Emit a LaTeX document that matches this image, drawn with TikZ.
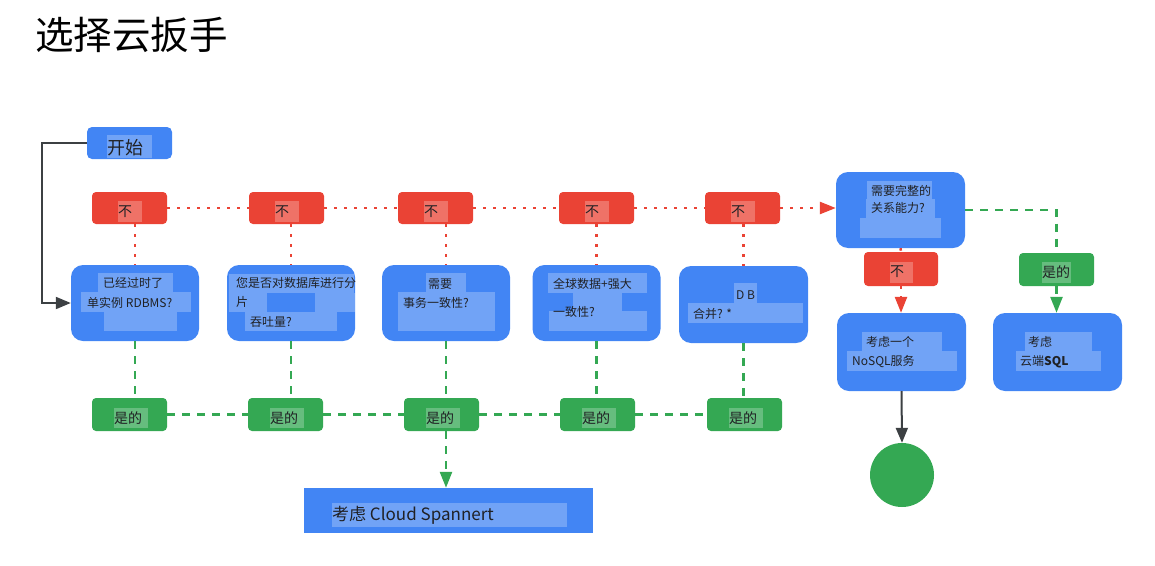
\documentclass[tikz,border=0pt]{standalone}
\usepackage{fontspec}
\setmainfont{Noto Sans CJK SC}
\usetikzlibrary{arrows.meta}
\definecolor{gblue}{HTML}{4285F4}
\definecolor{gred}{HTML}{EA4335}
\definecolor{ggreen}{HTML}{34A853}
\definecolor{gdark}{HTML}{3C4043}
\definecolor{gtext}{HTML}{202124}
\begin{document}
\begin{tikzpicture}[x=1pt,y=-1pt,
  qbox/.style={fill=gblue, rounded corners=12pt, minimum width=128pt, minimum height=76pt, inner sep=0pt},
  nobox/.style={fill=gred, rounded corners=4pt, minimum width=75pt, minimum height=32pt, inner sep=0pt},
  yesbox/.style={fill=ggreen, rounded corners=4pt, minimum width=75pt, minimum height=33pt, inner sep=0pt},
  hl/.style={fill=white, fill opacity=0.25},
  txt/.style={anchor=west, inner sep=0pt, text=gtext, font=\fontsize{12}{14}\selectfont},
  lbl/.style={anchor=west, inner sep=0pt, text=gtext, font=\fontsize{14}{16}\selectfont},
  reddot/.style={draw=gred, line width=2.5pt, dash pattern=on 2.5pt off 7.5pt},
  greendash/.style={draw=ggreen, line width=2.5pt, dash pattern=on 8pt off 7pt},
  redtip/.style={-{Triangle[length=16pt,width=12pt]}, gred},
  greentip/.style={-{Triangle[length=16pt,width=12pt]}, ggreen},
  darktip/.style={-{Triangle[length=15pt,width=12pt]}, gdark}
]
\useasboundingbox (0,0) rectangle (1155,565);

% title
\node[anchor=west, inner sep=0pt, text=black, font=\fontsize{38.5}{42}\selectfont] (title) at (35,35) {选择云扳手};

% start
\node[fill=gblue, rounded corners=5pt, minimum width=85pt, minimum height=32pt, inner sep=0pt] (start) at (129.5,143) {};
\fill[hl] (107,135) rectangle (152,158);
\node[anchor=west, inner sep=0pt, text=gtext, font=\fontsize{18}{20}\selectfont] (starttxt) at (107,148) {开始};

% question boxes
\node[qbox] (q1) at (135,303) {};
\node[qbox] (q2) at (291,303) {};
\node[qbox] (q3) at (446,303) {};
\node[qbox] (q4) at (596.5,303) {};
\node[qbox, minimum width=129pt, minimum height=77pt] (q5) at (743.5,304.5) {};

% no boxes
\foreach \i/\L in {1/92,2/249,3/398,4/559,5/705}{
  \node[nobox] (no\i) at (\L+37.5,208) {};
  \fill[hl] (\L+26,201) rectangle (\L+50,222);
  \node[lbl] (notxt\i) at (\L+26,211.5) {不};
}
% yes boxes
\foreach \i/\L in {1/92,2/248,3/404,4/560,5/707}{
  \node[yesbox] (yes\i) at (\L+37.5,414.5) {};
  \fill[hl] (\L+22,408) rectangle (\L+56,428);
  \node[lbl] (yestxt\i) at (\L+22,418) {是的};
}

% right side boxes
\node[qbox, minimum width=129pt] (big) at (900.5,210) {};
\node[nobox, minimum width=74pt, minimum height=34pt] (no6) at (901,269) {};
\node[yesbox] (yes6) at (1056.5,269.5) {};
\node[qbox, minimum width=129pt, minimum height=78pt] (nosql) at (901.5,352) {};
\node[qbox, minimum width=129pt, minimum height=78pt] (csql) at (1057.5,352) {};
\node[fill=gblue, minimum width=289pt, minimum height=45pt, inner sep=0pt] (spanner) at (448.5,510.5) {};
\node[circle, fill=ggreen, minimum size=64pt, inner sep=0pt] (circ) at (902,475) {};

% connectors: start
\draw[gdark, line width=2pt, darktip] (start.west) -- ++(-45,0) |- (q1.west);

% red dotted
\draw[reddot] (no1.east) -- (no2.west);
\draw[reddot] (no2.east) -- (no3.west);
\draw[reddot] (no3.east) -- (no4.west);
\draw[reddot] (no4.east) -- (no5.west);
\draw[reddot, redtip] (no5.east) -- (no5.east -| big.west);
\foreach \i in {1,...,5}{
  \draw[reddot] (q\i.north |- no\i.south) -- (q\i.north);
}
\draw[reddot] (big.south) -- (no6.north);
\draw[reddot, redtip] (no6.south) -- (no6.south |- nosql.north);

% green dashed
\foreach \i in {1,...,5}{
  \draw[greendash] (q\i.south) -- (q\i.south |- yes\i.north);
}
\draw[greendash] (yes1.east) -- (yes2.west);
\draw[greendash] (yes2.east) -- (yes3.west);
\draw[greendash] (yes3.east) -- (yes4.west);
\draw[greendash] (yes4.east) -- (yes5.west);
\draw[greendash, greentip] (q3.south |- yes3.south) -- (q3.south |- spanner.north);
\draw[greendash] (big.east) -| (yes6.north);
\draw[greendash, greentip] (yes6.south) -- (yes6.south |- csql.north);

% dark arrow to end
\draw[gdark, line width=2pt, darktip] (nosql.south) -- (circ.north);

% highlights
\fill[hl] (98,273) rectangle (173,292);
\fill[hl] (81,292) rectangle (191,312);
\fill[hl] (104,312) rectangle (177,331);
\fill[hl] (229,274) rectangle (354,293);
\fill[hl] (229,293) rectangle (267,312);
\fill[hl] (315,293) rectangle (355,312);
\fill[hl] (245,312) rectangle (337,331);
\fill[hl] (426,273) rectangle (466,292);
\fill[hl] (398,292) rectangle (495,331);
\fill[hl] (548,273) rectangle (647,293);
\fill[hl] (573,293) rectangle (622,311);
\fill[hl] (549,311) rectangle (647,331);
\fill[hl] (734,283) rectangle (757,303);
\fill[hl] (688,303) rectangle (803,323);
\fill[hl] (867,181) rectangle (932,199);
\fill[hl] (866,199) rectangle (935,218);
\fill[hl] (860,218) rectangle (941,238);
\fill[hl] (890,262) rectangle (913,283);
\fill[hl] (1042,262) rectangle (1071,283);
\fill[hl] (862,332) rectangle (942,351);
\fill[hl] (847,351) rectangle (957,371);
\fill[hl] (1025,332) rectangle (1092,351);
\fill[hl] (1016,351) rectangle (1101,371);
\fill[hl] (332,503) rectangle (567,527);

% texts
\node[txt] (t1a) at (103,283) {已经过时了};
\node[txt] (t1b) at (87,303) {单实例 RDBMS?};
\node[txt] (t2a) at (236,283) {您是否对数据库进行分};
\node[txt] (t2b) at (236,302) {片};
\node[txt] (t2c) at (250,322) {吞吐量?};
\node[txt] (t3a) at (428,284) {需要};
\node[txt] (t3b) at (403,303) {事务一致性?};
\node[txt] (t4a) at (553,284) {全球数据+强大};
\node[txt] (t4b) at (553,312) {一致性?};
\node[txt] (t5a) at (736,295) {D B};
\node[txt] (t5b) at (693,314) {合并? *};
\node[txt] (tba) at (871,191) {需要完整的};
\node[txt] (tbb) at (871,208) {关系能力?};
\node[lbl] (notxt6) at (890,272) {不};
\node[lbl] (yestxt6) at (1042,272) {是的};
\node[txt] (tna) at (866,342) {考虑一个};
\node[txt] (tnb) at (852,362) {NoSQL服务};
\node[txt] (tca) at (1028,342) {考虑};
\node[txt] (tcb) at (1020,362) {云端\textbf{SQL}};
\node[anchor=west, inner sep=0pt, text=gtext, font=\fontsize{17}{19}\selectfont] (tsp) at (332,515) {考虑 Cloud Spannert};
\end{tikzpicture}
\end{document}
